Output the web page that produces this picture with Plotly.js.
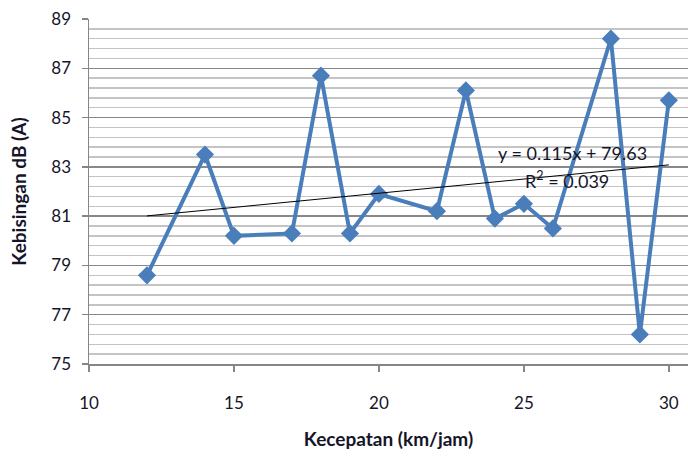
<!DOCTYPE html>
<html>
<head>
<meta charset="utf-8">
<script src="https://cdn.plot.ly/plotly-3.0.1.min.js"></script>
<style>html,body{margin:0;padding:0;background:#fff;}#chart{width:688px;height:458px;}</style>
</head>
<body>
<div id="chart"></div>
<script>
var speeds = [12, 14, 15, 17, 18, 19, 20, 22, 23, 24, 25, 26, 28, 29, 30];
var noise = [78.6, 83.5, 80.2, 80.3, 86.7, 80.3, 81.9, 81.2, 86.1, 80.9, 81.5, 80.5, 88.2, 76.2, 85.7];
var trendSlope = 0.115;
var trendIntercept = 79.63;
var trendX = [12, 30];
var trendY = trendX.map(function (x) { return trendSlope * x + trendIntercept; });
var xTicks = [10, 15, 20, 25, 30];
var yTicks = [75, 77, 79, 81, 83, 85, 87, 89];

var fontFam = 'Lato, "Open Sans", sans-serif';
var txtColor = '#15152a';

var data = [
  {
    x: speeds, y: noise, type: 'scatter', mode: 'lines+markers',
    line: {color: '#4a7ebb', width: 4},
    marker: {symbol: 'diamond', size: 14, color: '#4a7ebb'},
    hoverinfo: 'x+y'
  },
  {
    x: trendX, y: trendY, type: 'scatter', mode: 'lines',
    line: {color: '#000000', width: 1}, hoverinfo: 'skip'
  }
];

var layout = {
  width: 688, height: 458,
  margin: {l: 89, r: 0, t: 19, b: 94, pad: 0},
  paper_bgcolor: '#ffffff', plot_bgcolor: '#ffffff',
  showlegend: false,
  font: {family: fontFam, size: 17, color: txtColor},
  xaxis: {
    range: [10, 30.66], tickvals: xTicks, ticktext: xTicks.map(String),
    showgrid: false, zeroline: false,
    showline: true, linecolor: '#868686', linewidth: 1.5,
    ticks: 'outside', ticklen: 6, tickcolor: '#868686', tickwidth: 1.5,
    tickfont: {family: fontFam, size: 17, color: txtColor},
    ticklabelstandoff: 17,
    title: {text: '<b>Kecepatan (km/jam)</b>', font: {family: fontFam, size: 19, color: txtColor}, standoff: 21}
  },
  yaxis: {
    range: [75, 89], tickvals: yTicks, ticktext: yTicks.map(String),
    showgrid: true, gridcolor: '#888888', gridwidth: 1.5,
    zeroline: false,
    showline: true, linecolor: '#868686', linewidth: 1.5,
    ticks: 'outside', ticklen: 6, tickcolor: '#868686', tickwidth: 1.5,
    tickfont: {family: fontFam, size: 17, color: txtColor},
    ticklabelstandoff: 7,
    minor: {tick0: 75, dtick: 0.4, showgrid: true, gridcolor: '#c4c4c4', gridwidth: 1.5, ticks: ''},
    title: {text: '<b>Kebisingan dB (A)</b>', font: {family: fontFam, size: 19, color: txtColor}, standoff: 19}
  },
  annotations: [
    {xref: 'paper', yref: 'paper', x: (572 - 89) / 599, y: (364 - 153) / 345, xanchor: 'center', yanchor: 'middle',
     text: 'y = 0.115x + 79.63', showarrow: false, font: {family: fontFam, size: 18, color: txtColor}},
    {xref: 'paper', yref: 'paper', x: (567 - 89) / 599, y: (364 - 180) / 345, xanchor: 'center', yanchor: 'middle',
     text: 'R<sup>2</sup> = 0.039', showarrow: false, font: {family: fontFam, size: 18, color: txtColor}}
  ]
};

Plotly.newPlot('chart', data, layout, {displayModeBar: false, staticPlot: true});
</script>
</body>
</html>
